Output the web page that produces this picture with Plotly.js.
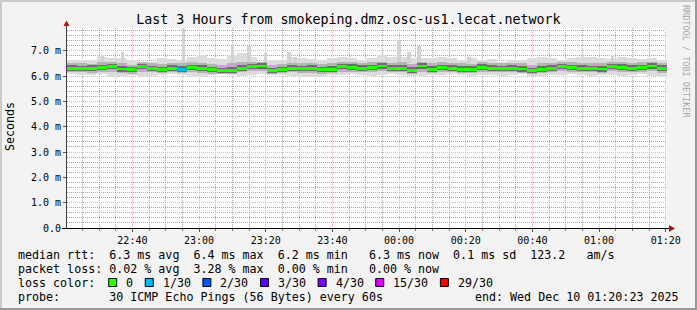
<!DOCTYPE html>
<html><head><meta charset="utf-8">
<script src="https://cdn.plot.ly/plotly-3.0.1.min.js"></script>
<style>html,body{margin:0;padding:0;background:#f3f3f3}#chart{width:697px;height:310px}</style>
</head><body><div id="chart"></div>
<script>
// ---------------- data (milliseconds) ----------------
const rangeStart = '2025-12-09 22:20:23';
const rangeEnd = '2025-12-10 01:20:23';
const firstBinCenterUTC = [2025, 11, 9, 22, 22, 0];
const binMinutes = 3;

const medianMs = [6.31,6.31,6.31,6.35,6.38,6.28,6.25,6.38,6.30,6.25,6.31,6.27,6.35,6.31,6.25,6.22,6.22,6.31,6.38,6.40,
  6.22,6.25,6.31,6.31,6.31,6.25,6.27,6.38,6.35,6.31,6.35,6.40,6.31,6.31,6.22,6.40,6.27,6.35,6.31,
  6.27,6.27,6.35,6.31,6.31,6.31,6.28,6.22,6.27,6.31,6.38,6.35,6.31,6.31,6.28,6.38,6.35,6.31,6.35,6.40,6.31];
const lossIndex = [0,0,0,0,0,0,0,0,0,0,0,1,0,0,0,0,0,0,0,0,
  0,0,0,0,0,0,0,0,0,0,0,0,0,0,0,0,0,0,0,
  0,0,0,0,0,0,0,0,0,0,0,0,0,0,0,0,0,0,0,0,0];
const minMs = [6.08,6.05,6.05,6.08,5.98,6.00,6.05,5.98,6.02,6.05,6.08,6.05,6.00,5.98,6.05,6.08,6.05,6.02,6.05,6.08,
  6.05,6.05,6.02,5.98,5.98,6.00,6.05,6.05,6.08,6.05,6.02,6.05,6.08,6.05,6.02,6.00,6.05,6.05,6.08,
  6.05,6.02,6.05,6.05,6.02,6.05,6.08,6.00,6.02,6.05,6.05,6.08,6.05,6.02,6.05,6.05,6.02,6.05,6.08,6.02,5.95];
const maxMs = [6.64,6.64,6.64,6.77,6.70,6.70,6.64,6.57,6.57,6.70,6.67,6.64,6.77,6.83,6.70,6.67,6.83,6.90,6.77,6.57,
  6.64,6.64,6.77,6.70,6.67,6.64,6.70,6.77,6.70,6.64,6.70,6.83,6.77,6.77,6.70,6.70,6.70,6.77,6.70,
  6.64,6.70,6.64,6.67,6.57,6.64,6.64,6.70,6.77,6.70,6.64,6.70,6.77,6.77,6.70,6.67,6.77,6.70,6.67,6.70,6.64];
const upperMs = [6.50,6.52,6.48,6.55,6.55,6.50,6.45,6.55,6.50,6.48,6.52,6.50,6.55,6.52,6.48,6.45,6.50,6.55,6.57,6.55,
  6.45,6.48,6.52,6.50,6.52,6.48,6.50,6.57,6.55,6.52,6.55,6.57,6.52,6.55,6.48,6.57,6.50,6.55,6.52,
  6.50,6.48,6.55,6.52,6.50,6.52,6.50,6.45,6.50,6.52,6.57,6.55,6.52,6.50,6.50,6.55,6.55,6.52,6.55,6.57,6.52];
const lowerMs = [6.15,6.15,6.12,6.18,6.15,6.12,6.10,6.18,6.15,6.12,6.15,6.12,6.15,6.12,6.10,6.08,6.10,6.15,6.20,6.20,
  6.10,6.12,6.15,6.12,6.12,6.10,6.12,6.18,6.18,6.15,6.18,6.20,6.15,6.15,6.08,6.18,6.12,6.18,6.15,
  6.12,6.12,6.18,6.15,6.15,6.15,6.12,6.08,6.12,6.15,6.20,6.18,6.15,6.15,6.12,6.20,6.18,6.15,6.18,6.20,6.12];
const coreHighMs = [6.42,6.40,6.44,6.45,6.48,6.38,6.36,6.47,6.40,6.35,6.42,6.38,6.45,6.42,6.36,6.33,6.34,6.42,6.48,6.50,
  6.33,6.36,6.42,6.40,6.42,6.36,6.38,6.48,6.46,6.42,6.45,6.50,6.42,6.42,6.34,6.50,6.38,6.45,6.42,
  6.38,6.38,6.46,6.42,6.40,6.42,6.38,6.33,6.38,6.42,6.48,6.45,6.42,6.40,6.38,6.48,6.46,6.42,6.45,6.50,6.42];
const coreLowMs = [6.22,6.20,6.22,6.25,6.27,6.18,6.15,6.27,6.20,6.15,6.22,6.18,6.25,6.20,6.15,6.12,6.13,6.22,6.28,6.30,
  6.12,6.15,6.22,6.20,6.22,6.15,6.18,6.28,6.25,6.22,6.25,6.30,6.22,6.20,6.12,6.30,6.18,6.25,6.22,
  6.18,6.18,6.25,6.22,6.20,6.22,6.18,6.12,6.18,6.22,6.28,6.25,6.22,6.20,6.18,6.28,6.25,6.22,6.25,6.30,6.22];

const spikeTimes = ['2025-12-09 22:31:00','2025-12-09 22:37:00','2025-12-09 22:55:15','2025-12-09 23:10:00',
  '2025-12-09 23:15:00','2025-12-09 23:20:00','2025-12-09 23:27:00','2025-12-09 23:29:00','2025-12-10 00:00:00',
  '2025-12-10 00:03:00','2025-12-10 00:06:00','2025-12-10 00:21:00','2025-12-10 01:04:00'];
const spikeTopMs = [6.83,6.97,7.89,7.17,7.17,6.90,6.97,6.77,7.43,6.97,7.17,6.77,6.84];

const yTickVals = [0,1,2,3,4,5,6,7];
const yTickText = ['0.0','1.0 m','2.0 m','3.0 m','4.0 m','5.0 m','6.0 m','7.0 m'];

const lossLabels = ['0','1/30','2/30','3/30','4/30','15/30','29/30'];
const lossColors = ['#26ff00','#00b8ff','#0059ff','#5e00ff','#7e00ff','#dd00ff','#ff0000'];

const titleText = 'Last 3 Hours from smokeping.dmz.osc-us1.lecat.network';
const legendRows = [
  'median rtt:  6.3 ms avg  6.4 ms max  6.2 ms min   6.3 ms now  0.1 ms sd  123.2   am/s',
  'packet loss: 0.02 % avg  3.28 % max  0.00 % min   0.00 % now',
  'loss color:',
  'probe:       30 ICMP Echo Pings (56 Bytes) every 60s'
];
const endText = 'end: Wed Dec 10 01:20:23 2025';
const watermark = 'RRDTOOL / TOBI OETIKER';

// ---------------- helpers ----------------
const pad = n => String(n).padStart(2, '0');
function fmt(ms) { const d = new Date(ms);
  return d.getUTCFullYear()+'-'+pad(d.getUTCMonth()+1)+'-'+pad(d.getUTCDate())+' '+pad(d.getUTCHours())+':'+pad(d.getUTCMinutes())+':'+pad(d.getUTCSeconds()); }
const t0 = Date.UTC.apply(null, firstBinCenterUTC);
const binTimes = medianMs.map((_, i) => fmt(t0 + i * binMinutes * 60000));
const binW = binMinutes * 60000;

const PL = 67, PR = 667, PT = 28, PB = 228;
const px = x => (x - PL) / (PR - PL);
const py = y => (PB - y) / (PB - PT);
const nb = s => s.replace(/ /g, '\u00a0');
const MONO = 'DejaVu Sans Mono';

function band(lo, hi, color, x, w) {
  return { type:'bar', x:x, base:lo, y:hi.map((v,i)=>v-lo[i]), width:w,
    marker:{color:color, line:{width:0}}, hoverinfo:'skip' };
}

// ---------------- traces ----------------
const traces = [
  band(minMs, maxMs, '#dcdcdc', binTimes, binW),
  band(spikeTopMs.map(()=>6.5), spikeTopMs, '#d2d2d2', spikeTimes, 60000),
  band(lowerMs, upperMs, '#b4b4b4', binTimes, binW),
  band(coreLowMs, coreHighMs, '#6e6e6e', binTimes, binW),
  { type:'bar', x:binTimes, base:medianMs.map(v=>v-0.055), y:medianMs.map(()=>0.11), width:binW,
    marker:{color:lossIndex.map(k=>lossColors[k]), line:{width:0}}, hoverinfo:'skip' }
];

// ---------------- shapes & annotations ----------------
const shapes = [];
const annotations = [];
function rectPx(x0,y0,x1,y1,fill,line) {
  shapes.push({type:'rect', xref:'paper', yref:'paper', x0:px(x0), x1:px(x1), y0:py(y0), y1:py(y1),
    fillcolor:fill, line: line ? {color:line, width:1} : {width:0}, layer:'above'});
}
function linePx(x0,y0,x1,y1,color) {
  shapes.push({type:'line', xref:'paper', yref:'paper', x0:px(x0), x1:px(x1), y0:py(y0), y1:py(y1),
    line:{color:color, width:1}, layer:'above'});
}
function triPx(pts,color) {
  const d = 'M' + pts.map(p => px(p[0]) + ',' + py(p[1])).join(' L') + ' Z';
  shapes.push({type:'path', xref:'paper', yref:'paper', path:d, fillcolor:color, line:{color:color, width:0}, layer:'above'});
}
// frame shading
rectPx(0,0,697,2,'#cbcbcb'); rectPx(0,0,2,310,'#cbcbcb');
rectPx(0,308,697,310,'#999999'); rectPx(695,0,697,310,'#999999');
// axes
linePx(66.5,228,66.5,22,'#404040');
linePx(62,228.5,670,228.5,'#000000');
triPx([[63.5,26],[69.5,26],[66.5,20.5]],'#a01818');
triPx([[669,225],[669,232],[675,228.5]],'#a01818');

// y-axis title
annotations.push({xref:'paper', yref:'paper', x:px(10), y:py(127), text:'Seconds', textangle:-90, showarrow:false,
  xanchor:'center', yanchor:'middle', font:{family:MONO, size:11.67, color:'#000'}});
// watermark
annotations.push({xref:'paper', yref:'paper', x:px(686.5), y:py(61.5), text:nb(watermark), textangle:90, showarrow:false,
  xanchor:'center', yanchor:'middle', font:{family:MONO, size:8.5, color:'#a8a8a8'}});
// legend rows
const rowY = [254.5, 268.5, 282.5, 296.5];
legendRows.forEach((r,i) => annotations.push({xref:'paper', yref:'paper', x:px(16), y:py(rowY[i]), text:nb(r),
  showarrow:false, xanchor:'left', yanchor:'middle', font:{family:MONO, size:11.67, color:'#000'}}));
annotations.push({xref:'paper', yref:'paper', x:px(680.5), y:py(rowY[3]), text:nb(endText), showarrow:false,
  xanchor:'right', yanchor:'middle', font:{family:MONO, size:11.67, color:'#000'}});
// loss colour boxes
let bx = 108.7;
lossLabels.forEach((lab,i) => {
  rectPx(bx, 278.5, bx+8, 286.5, lossColors[i], '#000000');
  annotations.push({xref:'paper', yref:'paper', x:px(bx+15.6), y:py(rowY[2]), text:lab, showarrow:false,
    xanchor:'left', yanchor:'middle', font:{family:MONO, size:11.67, color:'#000'}});
  bx += 15.5 + lab.length*7.02 + 14.04;
});

const layout = {
  width:697, height:310,
  margin:{l:PL, r:697-PR, t:PT, b:310-PB, pad:0},
  paper_bgcolor:'#f3f3f3', plot_bgcolor:'#ffffff',
  barmode:'overlay', bargap:0, showlegend:false,
  font:{family:MONO, size:10, color:'#000'},
  title:{text:titleText, font:{family:MONO, size:13.3, color:'#000'}, x:0.5, xref:'container', xanchor:'center',
    y:1-19.5/310, yref:'container', yanchor:'middle'},
  xaxis:{type:'date', range:[rangeStart, rangeEnd], tickformat:'%H:%M', dtick:20*60000, tick0:'2025-12-09 22:00:00',
    showgrid:true, gridcolor:'#f4aaaa', griddash:'1px,1px', gridwidth:1, ticks:'outside', ticklen:3, tickcolor:'#555',
    minor:{dtick:5*60000, showgrid:true, gridcolor:'#a8a8a8', griddash:'1px,1px', ticks:'outside', ticklen:2, tickcolor:'#777'},
    showline:false, zeroline:false, fixedrange:true, tickfont:{family:MONO, size:10}},
  yaxis:{range:[0,7.9], tickmode:'array', tickvals:yTickVals, ticktext:yTickText,
    showgrid:true, gridcolor:'#f4aaaa', griddash:'1px,1px', gridwidth:1, ticks:'outside', ticklen:3, tickcolor:'#555',
    minor:{dtick:0.2, showgrid:true, gridcolor:'#a8a8a8', griddash:'1px,1px'},
    showline:false, zeroline:false, fixedrange:true, tickfont:{family:MONO, size:10}},
  shapes:shapes, annotations:annotations
};
Plotly.newPlot('chart', traces, layout, {displayModeBar:false, staticPlot:true});
</script></body></html>
